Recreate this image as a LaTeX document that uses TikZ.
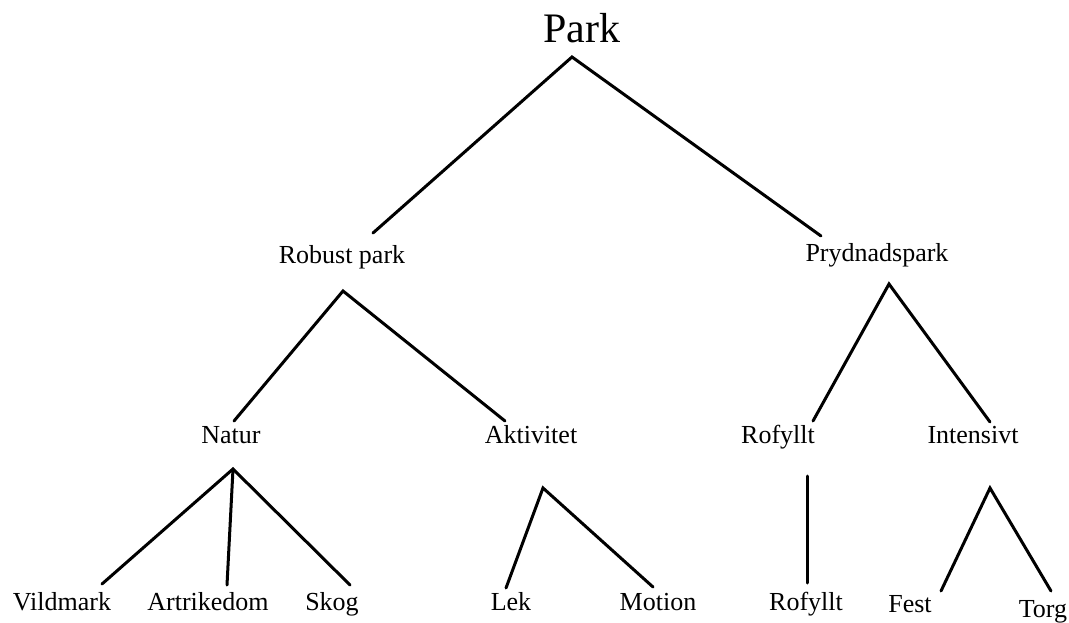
\documentclass[tikz,border=0pt]{standalone}
\usepackage{fontspec}
\setmainfont{Liberation Serif}
\begin{document}
\begin{tikzpicture}[x=1pt,y=-1pt,
  lbl/.style={anchor=base,inner sep=0pt,font=\fontsize{26}{28}\selectfont},
  toplbl/.style={anchor=base,inner sep=0pt,font=\fontsize{42}{44}\selectfont},
  edge/.style={line width=3pt,line cap=round,line join=miter}]
\useasboundingbox (0,0) rectangle (1069,623);
% labels
\node[toplbl] (park) at (582,43) {Park};
\node[lbl] (robust) at (342,263) {Robust park};
\node[lbl] (pryd) at (877,261) {Prydnadspark};
\node[lbl] (natur) at (231,443) {Natur};
\node[lbl] (aktiv) at (531,443) {Aktivitet};
\node[lbl] (rof1) at (778,443) {Rofyllt};
\node[lbl] (intens) at (973,443) {Intensivt};
\node[lbl] (vild) at (62,610) {Vildmark};
\node[lbl] (art) at (208,610) {Artrikedom};
\node[lbl] (skog) at (332,610) {Skog};
\node[lbl] (lek) at (511,610) {Lek};
\node[lbl] (motion) at (658,610) {Motion};
\node[lbl] (rof2) at (806,610) {Rofyllt};
\node[lbl] (fest) at (910,612) {Fest};
\node[lbl] (torg) at (1043,617) {Torg};
% connector ends
\coordinate (park-b) at (572,57);
\coordinate (robust-t) at (373,233);
\coordinate (robust-b) at (343,291);
\coordinate (pryd-t) at (821,236);
\coordinate (pryd-b) at (889,284);
\coordinate (natur-t) at (234,421);
\coordinate (natur-b) at (233,469);
\coordinate (aktiv-t) at (505,421);
\coordinate (aktiv-b) at (543,488);
\coordinate (rof1-t) at (813,421);
\coordinate (rof1-b) at (807,476);
\coordinate (intens-t) at (990,422);
\coordinate (intens-b) at (990,488);
\coordinate (vild-t) at (102,584);
\coordinate (art-t) at (227,585);
\coordinate (skog-t) at (350,585);
\coordinate (lek-t) at (506,588);
\coordinate (motion-t) at (653,587);
\coordinate (rof2-t) at (807,583);
\coordinate (fest-t) at (941,591);
\coordinate (torg-t) at (1051,591);
% connectors
\draw[edge] (robust-t) -- (park-b) -- (pryd-t);
\draw[edge] (natur-t) -- (robust-b) -- (aktiv-t);
\draw[edge] (rof1-t) -- (pryd-b) -- (intens-t);
\draw[edge] (vild-t) -- (natur-b) -- (skog-t);
\draw[edge] (natur-b) -- (art-t);
\draw[edge] (lek-t) -- (aktiv-b) -- (motion-t);
\draw[edge] (rof1-b) -- (rof2-t);
\draw[edge] (fest-t) -- (intens-b) -- (torg-t);
\end{tikzpicture}
\end{document}
